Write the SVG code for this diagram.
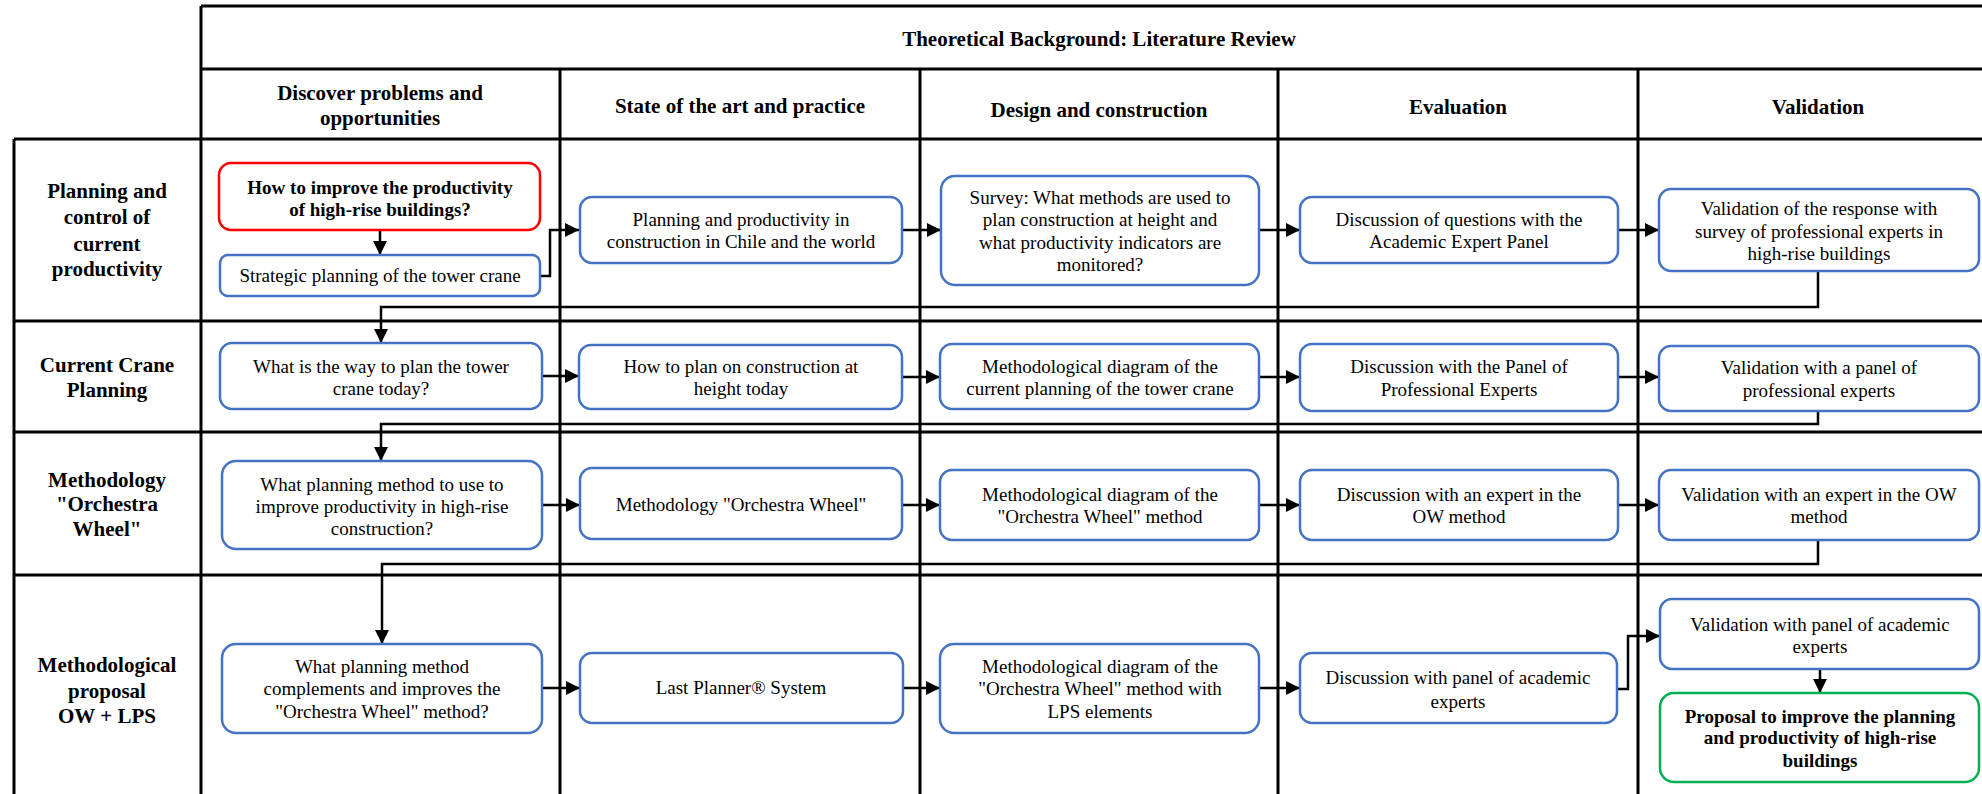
<svg xmlns="http://www.w3.org/2000/svg" width="1982" height="794" viewBox="0 0 1982 794" font-family="'Liberation Serif', 'Times New Roman', serif">
  <style>
    .grid { stroke: #000; stroke-width: 3; fill: none; }
    .box { fill: #fff; stroke: #4472C4; stroke-width: 2.5; }
    .box.start { stroke: #FF0000; }
    .box.end { stroke: #00B050; }
    .link { stroke: #000; stroke-width: 2.5; fill: none; marker-end: url(#arrow); }
    text { font-family: "Liberation Serif", "Times New Roman", serif; fill: #000; text-anchor: middle; }
    .t { font-size: 19px; }
    .b { font-size: 19px; font-weight: bold; }
    .head { font-size: 21px; font-weight: bold; }
    .title { font-size: 21px; font-weight: bold; }
    .row { font-size: 21px; font-weight: bold; }
  </style>
  <defs>
    <marker id="arrow" markerUnits="userSpaceOnUse" markerWidth="14" markerHeight="14" viewBox="0 0 14 14" refX="14" refY="7" orient="auto">
      <path d="M0,0 L14,7 L0,14 Z" fill="#000"/>
    </marker>
  </defs>
  <rect width="1982" height="794" fill="#fff"/>

  <!-- table grid -->
  <g id="grid">
    <path class="grid" d="M201,6 H1982 M201,6 V794 M201,69 H1982 M14,139 H1982 M14,139 V794"/>
    <path class="grid" d="M560,69 V794 M920,69 V794 M1278,69 V794 M1638,69 V794"/>
    <path class="grid" d="M14,321 H1982 M14,432 H1982 M14,575 H1982"/>
  </g>

  <!-- headings -->
  <g id="headings">
    <text class="title" x="1099" y="46">Theoretical Background: Literature Review</text>
    <text class="head" x="380" y="100">Discover problems and</text>
    <text class="head" x="380" y="125">opportunities</text>
    <text class="head" x="740" y="113">State of the art and practice</text>
    <text class="head" x="1099" y="117">Design and construction</text>
    <text class="head" x="1458" y="114">Evaluation</text>
    <text class="head" x="1818" y="114">Validation</text>
  </g>

  <!-- row labels -->
  <g id="rows">
    <text class="row" x="107" y="198">Planning and</text>
    <text class="row" x="107" y="224">control of</text>
    <text class="row" x="107" y="251">current</text>
    <text class="row" x="107" y="276">productivity</text>
    <text class="row" x="107" y="372">Current Crane</text>
    <text class="row" x="107" y="397">Planning</text>
    <text class="row" x="107" y="487">Methodology</text>
    <text class="row" x="107" y="511">"Orchestra</text>
    <text class="row" x="107" y="536">Wheel"</text>
    <text class="row" x="107" y="672">Methodological</text>
    <text class="row" x="107" y="698">proposal</text>
    <text class="row" x="107" y="723">OW + LPS</text>
  </g>

  <!-- connectors -->
  <g id="connectors">
    <path class="link" d="M380,230 V255"/>
    <path class="link" d="M540,276 H550 V230 H579"/>
    <path class="link" d="M902,230 H941"/>
    <path class="link" d="M1259,230 H1300"/>
    <path class="link" d="M1618,230 H1659"/>
    <path class="link" d="M1818,271 V307 H381 V343"/>
    <path class="link" d="M542,376 H579"/>
    <path class="link" d="M902,377 H940"/>
    <path class="link" d="M1259,377 H1300"/>
    <path class="link" d="M1618,377 H1659"/>
    <path class="link" d="M1818,411 V424 H381 V461"/>
    <path class="link" d="M542,505 H580"/>
    <path class="link" d="M902,505 H940"/>
    <path class="link" d="M1259,505 H1300"/>
    <path class="link" d="M1618,505 H1659"/>
    <path class="link" d="M1818,540 V564 H382 V644"/>
    <path class="link" d="M542,688 H580"/>
    <path class="link" d="M903,688 H940"/>
    <path class="link" d="M1259,688 H1300"/>
    <path class="link" d="M1617,689 H1628 V636 H1660"/>
    <path class="link" d="M1820,669 V693"/>
  </g>

  <!-- row 1 -->
  <g id="n-improve">
    <rect class="box start" x="219" y="163" width="321" height="67" rx="12"/>
    <text class="b" x="380" y="194">How to improve the productivity</text>
    <text class="b" x="380" y="216">of high-rise buildings?</text>
  </g>
  <g id="n-strategic">
    <rect class="box" x="220" y="255" width="320" height="41" rx="8"/>
    <text class="t" x="380" y="282">Strategic planning of the tower crane</text>
  </g>
  <g id="n-productivity">
    <rect class="box" x="580" y="197" width="322" height="66" rx="12"/>
    <text class="t" x="741" y="226">Planning and productivity in</text>
    <text class="t" x="741" y="248">construction in Chile and the world</text>
  </g>
  <g id="n-survey">
    <rect class="box" x="941" y="176" width="318" height="109" rx="14"/>
    <text class="t" x="1100" y="204">Survey: What methods are used to</text>
    <text class="t" x="1100" y="226">plan construction at height and</text>
    <text class="t" x="1100" y="249">what productivity indicators are</text>
    <text class="t" x="1100" y="271">monitored?</text>
  </g>
  <g id="n-academic-panel">
    <rect class="box" x="1300" y="197" width="318" height="66" rx="12"/>
    <text class="t" x="1459" y="226">Discussion of questions with the</text>
    <text class="t" x="1459" y="248">Academic Expert Panel</text>
  </g>
  <g id="n-survey-validation">
    <rect class="box" x="1659" y="189" width="320" height="82" rx="12"/>
    <text class="t" x="1819" y="215">Validation of the response with</text>
    <text class="t" x="1819" y="238">survey of professional experts in</text>
    <text class="t" x="1819" y="260">high-rise buildings</text>
  </g>

  <!-- row 2 -->
  <g id="n-crane-today">
    <rect class="box" x="220" y="343" width="322" height="66" rx="12"/>
    <text class="t" x="381" y="373">What is the way to plan the tower</text>
    <text class="t" x="381" y="395">crane today?</text>
  </g>
  <g id="n-height-today">
    <rect class="box" x="579" y="345" width="323" height="64" rx="12"/>
    <text class="t" x="741" y="373">How to plan on construction at</text>
    <text class="t" x="741" y="395">height today</text>
  </g>
  <g id="n-current-diagram">
    <rect class="box" x="940" y="344" width="319" height="65" rx="12"/>
    <text class="t" x="1100" y="373">Methodological diagram of the</text>
    <text class="t" x="1100" y="395">current planning of the tower crane</text>
  </g>
  <g id="n-professional-panel">
    <rect class="box" x="1300" y="344" width="318" height="67" rx="12"/>
    <text class="t" x="1459" y="373">Discussion with the Panel of</text>
    <text class="t" x="1459" y="396">Professional Experts</text>
  </g>
  <g id="n-professional-validation">
    <rect class="box" x="1659" y="346" width="320" height="65" rx="12"/>
    <text class="t" x="1819" y="374">Validation with a panel of</text>
    <text class="t" x="1819" y="397">professional experts</text>
  </g>

  <!-- row 3 -->
  <g id="n-method-choice">
    <rect class="box" x="222" y="461" width="320" height="88" rx="14"/>
    <text class="t" x="382" y="491">What planning method to use to</text>
    <text class="t" x="382" y="513">improve productivity in high-rise</text>
    <text class="t" x="382" y="535">construction?</text>
  </g>
  <g id="n-ow">
    <rect class="box" x="580" y="468" width="322" height="71" rx="12"/>
    <text class="t" x="741" y="511">Methodology "Orchestra Wheel"</text>
  </g>
  <g id="n-ow-diagram">
    <rect class="box" x="940" y="470" width="319" height="70" rx="12"/>
    <text class="t" x="1100" y="501">Methodological diagram of the</text>
    <text class="t" x="1100" y="523">"Orchestra Wheel" method</text>
  </g>
  <g id="n-ow-expert">
    <rect class="box" x="1300" y="470" width="318" height="70" rx="12"/>
    <text class="t" x="1459" y="501">Discussion with an expert in the</text>
    <text class="t" x="1459" y="523">OW method</text>
  </g>
  <g id="n-ow-validation">
    <rect class="box" x="1659" y="470" width="320" height="70" rx="12"/>
    <text class="t" x="1819" y="501">Validation with an expert in the OW</text>
    <text class="t" x="1819" y="523">method</text>
  </g>

  <!-- row 4 -->
  <g id="n-complement">
    <rect class="box" x="222" y="644" width="320" height="89" rx="14"/>
    <text class="t" x="382" y="673">What planning method</text>
    <text class="t" x="382" y="695">complements and improves the</text>
    <text class="t" x="382" y="718">"Orchestra Wheel" method?</text>
  </g>
  <g id="n-lps">
    <rect class="box" x="580" y="653" width="323" height="70" rx="12"/>
    <text class="t" x="741" y="694">Last Planner® System</text>
  </g>
  <g id="n-lps-diagram">
    <rect class="box" x="940" y="644" width="319" height="89" rx="14"/>
    <text class="t" x="1100" y="673">Methodological diagram of the</text>
    <text class="t" x="1100" y="695">"Orchestra Wheel" method with</text>
    <text class="t" x="1100" y="718">LPS elements</text>
  </g>
  <g id="n-academic-discussion">
    <rect class="box" x="1300" y="653" width="317" height="70" rx="12"/>
    <text class="t" x="1458" y="684">Discussion with panel of academic</text>
    <text class="t" x="1458" y="708">experts</text>
  </g>
  <g id="n-academic-validation">
    <rect class="box" x="1660" y="599" width="319" height="70" rx="12"/>
    <text class="t" x="1820" y="631">Validation with panel of academic</text>
    <text class="t" x="1820" y="653">experts</text>
  </g>
  <g id="n-proposal">
    <rect class="box end" x="1660" y="693" width="319" height="89" rx="14"/>
    <text class="b" x="1820" y="723">Proposal to improve the planning</text>
    <text class="b" x="1820" y="744">and productivity of high-rise</text>
    <text class="b" x="1820" y="767">buildings</text>
  </g>
</svg>
